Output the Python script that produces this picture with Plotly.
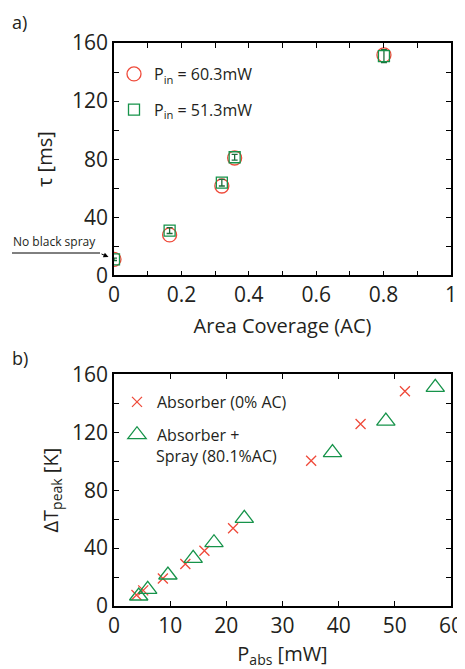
import plotly.graph_objects as go

# Panel a data
ac_circle = [0.0, 0.165, 0.32, 0.358, 0.801]
tau_circle = [11.0, 27.8, 61.5, 80.8, 151.8]
ac_square = [0.0, 0.165, 0.32, 0.358, 0.801]
tau_square = [11.0, 30.8, 63.8, 81.3, 151.0]
tau_square_err = [0.8, 2.0, 2.3, 2.0, 4.5]

# Panel b data
p_abs_x = [4.0, 5.2, 8.7, 12.7, 16.1, 21.2, 35.1, 43.9, 51.8]
dT_x = [7.6, 10.8, 19.0, 29.0, 38.1, 53.7, 100.3, 125.7, 148.3]
p_abs_tri = [4.4, 6.0, 9.6, 14.1, 17.8, 23.2, 38.9, 48.4, 57.2]
dT_tri = [6.9, 11.5, 21.4, 32.9, 43.7, 60.5, 105.9, 127.7, 151.0]

RED = "#ef4a3a"
GREEN = "#16934a"
TXT = "#231f20"
FONT = "Open Sans"

OFF = 8  # page body margin
W, H = 465 - OFF, 669 - OFF
ML, MR, MT, MB = 114 - OFF, 14, 43 - OFF, 63
PW, PH = W - ML - MR, H - MT - MB

def px(x):
    return (x - OFF - ML) / PW
def py(y):
    return (H - MB - (y - OFF)) / PH

fig = go.Figure()

fig.add_trace(go.Scatter(
    x=ac_circle, y=tau_circle, mode="markers", xaxis="x", yaxis="y",
    marker=dict(symbol="circle-open", size=14, color=RED, line=dict(width=1.3, color=RED)),
    name="P<sub>in</sub> = 60.3mW", legend="legend", legendgroup="a1"))
fig.add_trace(go.Scatter(
    x=ac_square, y=tau_square, mode="markers", xaxis="x", yaxis="y",
    marker=dict(symbol="square-open", size=11, color=GREEN, line=dict(width=1.3, color=GREEN)),
    error_y=dict(type="data", array=tau_square_err, color="#1d6b3a", thickness=1.3, width=3),
    name="P<sub>in</sub> = 51.3mW", legend="legend", legendgroup="a2"))

fig.add_trace(go.Scatter(
    x=p_abs_x, y=dT_x, mode="markers", xaxis="x2", yaxis="y2",
    marker=dict(symbol="x-thin-open", size=10, color=RED, line=dict(width=1.3, color=RED)),
    name="Absorber (0% AC)", legend="legend2", legendgroup="b1"))
fig.add_trace(go.Scatter(
    x=p_abs_tri, y=dT_tri, mode="markers", xaxis="x2", yaxis="y2",
    marker=dict(symbol="triangle-up-open", size=16, color=GREEN, line=dict(width=1.3, color=GREEN)),
    name="Absorber +", legend="legend2", legendgroup="b2"))

axis_common = dict(
    showline=True, linecolor="black", linewidth=1.5, mirror="ticks",
    ticks="inside", ticklen=5, tickwidth=1.2, tickcolor="black",
    showgrid=False, zeroline=False, automargin=False,
    tickfont=dict(family=FONT, size=21, color=TXT),
    title_font=dict(family=FONT, size=20, color=TXT),
)

xa_vals = [0, 0.1, 0.2, 0.3, 0.4, 0.5, 0.6, 0.7, 0.8, 0.9, 1.0]
xa_text = ["0", "", "0.2", "", "0.4", "", "0.6", "", "0.8", "", "1"]
y_vals = list(range(0, 161, 20))
y_text = [str(v) if v % 40 == 0 else "" for v in y_vals]
xb_vals = [0, 10, 20, 30, 40, 50, 60]
xb_text = [str(v) for v in xb_vals]

fig.update_layout(
    width=W, height=H, margin=dict(l=ML, r=MR, t=MT, b=MB, autoexpand=False),
    paper_bgcolor="white", plot_bgcolor="white",
    font=dict(family=FONT, color=TXT),
    xaxis=dict(domain=[0, 1], range=[0, 1], anchor="y",
               tickmode="array", tickvals=xa_vals, ticktext=xa_text,
               title=dict(text="Area Coverage (AC)", standoff=12), **axis_common),
    yaxis=dict(domain=[py(275.3), 1], range=[0, 160], anchor="x",
               tickmode="array", tickvals=y_vals, ticktext=y_text,
               title=dict(text="τ [ms]", standoff=14), **axis_common),
    xaxis2=dict(domain=[0, 1], range=[0, 60], anchor="y2",
                tickmode="array", tickvals=xb_vals, ticktext=xb_text,
                title=dict(text="P<sub>abs</sub> [mW]", standoff=12), **axis_common),
    yaxis2=dict(domain=[0, py(374.3)], range=[0, 160], anchor="x2",
                tickmode="array", tickvals=y_vals, ticktext=y_text,
                title=dict(text="ΔT<sub>peak</sub> [K]", standoff=8), **axis_common),
    legend=dict(x=px(114), y=py(57), xanchor="left", yanchor="top",
                bgcolor="rgba(0,0,0,0)", font=dict(family=FONT, size=16, color=TXT),
                tracegroupgap=12, itemwidth=30),
    legend2=dict(x=px(117), y=py(385), xanchor="left", yanchor="top",
                 bgcolor="rgba(0,0,0,0)", font=dict(family=FONT, size=16, color=TXT),
                 tracegroupgap=9, itemwidth=30),
    showlegend=True,
)

fig.add_annotation(text="Spray (80.1%AC)", xref="paper", yref="paper", x=px(153.5), y=py(456),
                   xanchor="left", yanchor="middle", showarrow=False,
                   font=dict(family=FONT, size=16, color=TXT))
fig.add_annotation(text="a)", xref="paper", yref="paper", x=px(10), y=py(8),
                   xanchor="left", yanchor="top", showarrow=False,
                   font=dict(family=FONT, size=18, color=TXT))
fig.add_annotation(text="b)", xref="paper", yref="paper", x=px(10), y=py(344),
                   xanchor="left", yanchor="top", showarrow=False,
                   font=dict(family=FONT, size=18, color=TXT))
fig.add_annotation(text="No black spray", xref="paper", yref="paper", x=px(11), y=py(252),
                   xanchor="left", yanchor="bottom", showarrow=False,
                   font=dict(family=FONT, size=12, color=TXT))
fig.add_shape(type="line", xref="paper", yref="paper",
              x0=px(12), x1=px(100), y0=py(253), y1=py(253),
              line=dict(color="black", width=1))
fig.add_annotation(text="", x=ac_square[0], y=tau_square[0], xref="x", yref="y",
                   ax=-14, ay=-6, axref="pixel", ayref="pixel",
                   showarrow=True, arrowhead=2, arrowsize=1, arrowwidth=1,
                   arrowcolor="black", standoff=6)

fig.write_html("out.html")
